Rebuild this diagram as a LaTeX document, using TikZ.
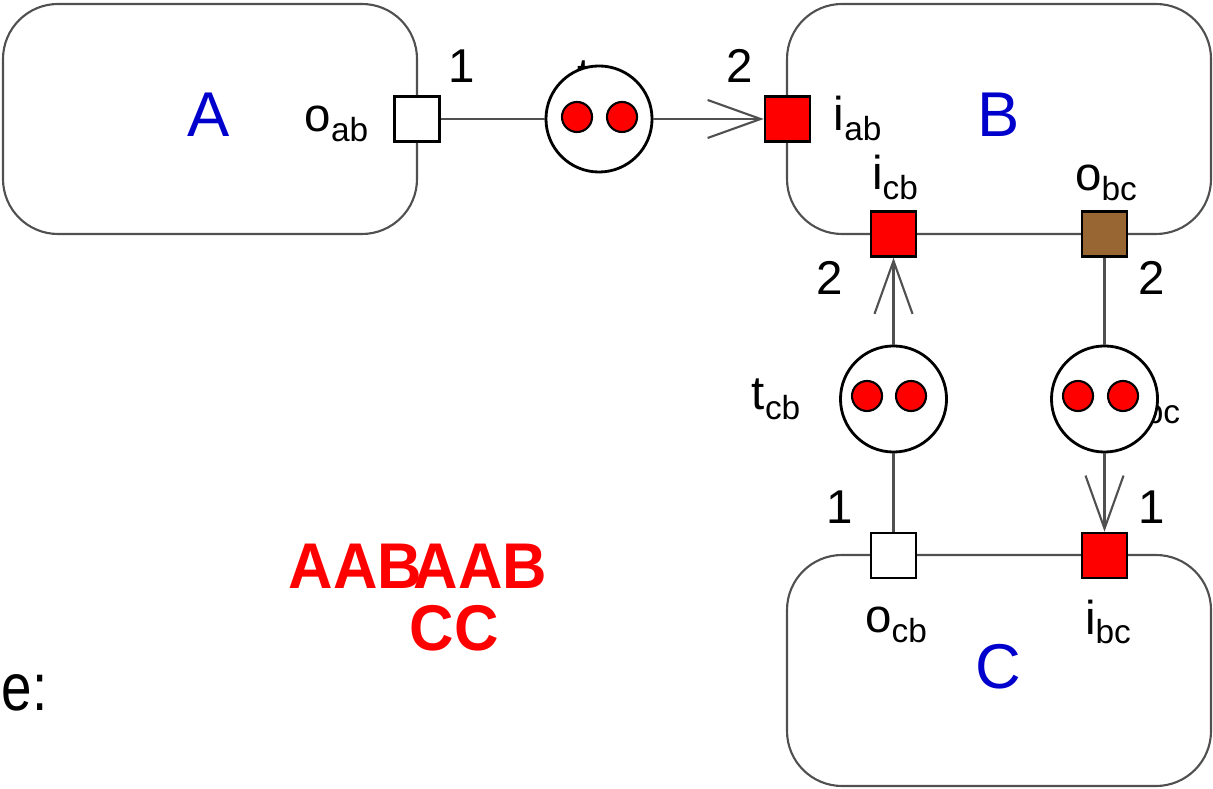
\documentclass[tikz,border=0pt]{standalone}
\usepackage{fontspec}
\setmainfont{Liberation Sans}
\usetikzlibrary{arrows.meta}
\definecolor{linegray}{HTML}{505050}
\definecolor{portbrown}{HTML}{976633}
\definecolor{labelblue}{HTML}{0000CC}
\newcommand{\sbs}[1]{\raisebox{-0.19em}{\fontsize{9.5pt}{10pt}\selectfont #1}}
\tikzset{
  blockbox/.style={draw=linegray, line width=0.6pt, rounded corners=0.55cm},
  port/.style={draw=black, line width=0.7pt, minimum size=0.45cm, inner sep=0pt},
  place/.style={circle, draw=black, fill=white, line width=0.8pt, minimum size=1.06cm, inner sep=0pt},
  token/.style={circle, draw=black, fill=red, line width=0.6pt, minimum size=0.3cm, inner sep=0pt},
  conn/.style={draw=linegray, line width=0.6pt},
  arr/.style={-{Straight Barb[length=5.3mm,width=3.8mm]}},
  plabel/.style={inner sep=0pt, font=\fontsize{13.5pt}{14pt}\selectfont},
  blabel/.style={inner sep=0pt, text=labelblue, font=\fontsize{18pt}{20pt}\selectfont},
  redtext/.style={inner sep=0pt, text=red, font=\fontsize{17.5pt}{19pt}\selectfont\bfseries},
}
\begin{document}
\begin{tikzpicture}[x=0.01cm, y=-0.01cm]
\useasboundingbox (0,0) rectangle (1213,789);
% blocks
\draw[blockbox] (3,4) rectangle (417,234);
\draw[blockbox] (787,4) rectangle (1211,234);
\draw[blockbox] (787,555) rectangle (1211,786);
\node[blabel, anchor=base] (lA) at (209,137) {A};
\node[blabel, anchor=base] (lB) at (999,137) {B};
\node[blabel, anchor=base] (lC) at (998,688) {C};
% ports
\node[port, fill=white] (oab) at (417,119) {};
\node[port, fill=red] (iab) at (787.5,119) {};
\node[port, fill=red] (icb) at (893.5,234) {};
\node[port, fill=portbrown] (obc) at (1104.5,234) {};
\node[port, fill=white] (ocb) at (893.5,555.5) {};
\node[port, fill=red] (ibc) at (1104.5,555.5) {};
% port labels
\node[plabel, anchor=base east] (loab) at (369,132) {o\sbs{ab}};
\node[plabel, anchor=base west] (liab) at (833,131) {i\sbs{ab}};
\node[plabel, anchor=base] (licb) at (895,190) {i\sbs{cb}};
\node[plabel, anchor=base] (lobc) at (1106,191) {o\sbs{bc}};
\node[plabel, anchor=base] (locb) at (896,633) {o\sbs{cb}};
\node[plabel, anchor=base] (libc) at (1108,634) {i\sbs{bc}};
% weights
\node[plabel, anchor=base] (w1) at (462,83) {1};
\node[plabel, anchor=base] (w2) at (740,83) {2};
\node[plabel, anchor=base] (w3) at (830,295) {2};
\node[plabel, anchor=base] (w4) at (1152,295) {2};
\node[plabel, anchor=base] (w5) at (840,524) {1};
\node[plabel, anchor=base] (w6) at (1152,524) {1};
% transition labels (partly hidden behind the places)
\node[plabel, anchor=base west] (ltab) at (577,92) {t\sbs{ab}};
\node[plabel, anchor=base east] (ltcb) at (801,410) {t\sbs{cb}};
\node[plabel, anchor=base west] (ltbc) at (1131,414) {t\sbs{bc}};
% places
\node[place] (tab) at (599,119) {};
\node[place] (tcb) at (893.5,399) {};
\node[place] (tbc) at (1104.5,399) {};
\node[token] (k1) at (577,117) {};
\node[token] (k2) at (622,117) {};
\node[token] (k3) at (867,396) {};
\node[token] (k4) at (911,396) {};
\node[token] (k5) at (1078,396) {};
\node[token] (k6) at (1123,396) {};
% connectors
\draw[conn] (oab.east) -- (tab.west);
\draw[conn, arr] (tab.east) -- (iab.west);
\draw[conn, arr] (tcb.north) -- (icb.south);
\draw[conn] (tcb.south) -- (ocb.north);
\draw[conn] (obc.south) -- (tbc.north);
\draw[conn, arr] (tbc.south) -- (ibc.north);
% red texts
\node[redtext, anchor=base west] (r1) at (288,589) {\scalebox{1}[1.05]{AAB}};
\node[redtext, anchor=base west] (r2) at (413,589) {\scalebox{1}[1.05]{AAB}};
\node[redtext, anchor=base west] (r3) at (409,650) {\scalebox{1}[1.05]{CC}};
% text at left edge
\node[inner sep=0pt, anchor=base west, font=\fontsize{19pt}{21pt}\selectfont] (e) at (1,710) {\scalebox{0.82}[1]{e:}};
\end{tikzpicture}
\end{document}
